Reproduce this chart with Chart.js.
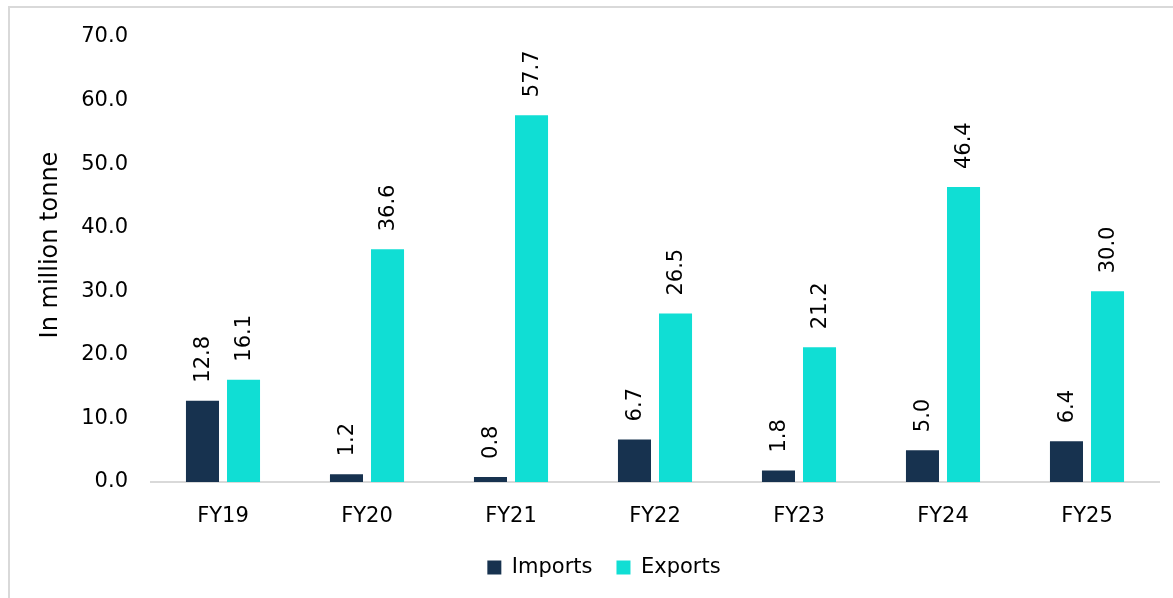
<!DOCTYPE html>
<html>
<head>
<meta charset="utf-8">
<script src="https://cdn.jsdelivr.net/npm/chart.js@4.4.1/dist/chart.umd.min.js"></script>
<style>
  html, body { margin: 0; padding: 0; background: #fff; }
  #wrap { position: relative; width: 1173px; height: 598px; }
  #frame { position: absolute; left: 8px; top: 6px; right: -2px; bottom: -2px;
           border-left: 2px solid #d9d9d9; border-top: 2px solid #d9d9d9; }
  canvas { position: absolute; left: 0; top: 0; }
</style>
</head>
<body>
<div id="wrap">
  <div id="frame"></div>
  <canvas id="c" width="1173" height="598"></canvas>
</div>
<script>
const categories = ['FY19', 'FY20', 'FY21', 'FY22', 'FY23', 'FY24', 'FY25'];
const imports = [12.8, 1.2, 0.8, 6.7, 1.8, 5.0, 6.4];
const exports = [16.1, 36.6, 57.7, 26.5, 21.2, 46.4, 30.0];
const yTicks = [0, 10, 20, 30, 40, 50, 60, 70];
const yTitle = 'In million tonne';

const FONT = '"DejaVu Sans", sans-serif';

const labelPlugin = {
  id: 'barLabels',
  afterDatasetsDraw(chart) {
    const ctx = chart.ctx;
    ctx.save();
    ctx.font = '21px ' + FONT;
    ctx.fillStyle = '#000';
    ctx.textAlign = 'left';
    ctx.textBaseline = 'middle';
    chart.data.datasets.forEach((ds, di) => {
      const meta = chart.getDatasetMeta(di);
      meta.data.forEach((el, i) => {
        ctx.save();
        ctx.translate(el.x, el.y - 18);
        ctx.rotate(-Math.PI / 2);
        ctx.fillText(ds.data[i].toFixed(1), 0, 1);
        ctx.restore();
      });
    });
    // y-axis title
    ctx.save();
    ctx.font = '24px ' + FONT;
    ctx.textAlign = 'center';
    ctx.textBaseline = 'alphabetic';
    ctx.translate(57, 245);
    ctx.rotate(-Math.PI / 2);
    ctx.fillText(yTitle, 0, 0);
    ctx.restore();
    ctx.restore();
  }
};

new Chart(document.getElementById('c'), {
  type: 'bar',
  data: {
    labels: categories,
    datasets: [
      { label: 'Imports', data: imports, backgroundColor: '#17324f',
        categoryPercentage: 0.57, barPercentage: 0.805 },
      { label: 'Exports', data: exports, backgroundColor: '#10ded4',
        categoryPercentage: 0.57, barPercentage: 0.805 }
    ]
  },
  options: {
    responsive: false,
    animation: false,
    devicePixelRatio: 1,
    layout: { padding: { top: 37, right: 14, left: 49, bottom: 10 } },
    plugins: {
      legend: {
        position: 'bottom',
        labels: { boxWidth: 14, boxHeight: 14, padding: 24,
                  color: '#000', font: { family: FONT, size: 21 } }
      },
      tooltip: { enabled: false }
    },
    scales: {
      x: {
        grid: { display: false, drawTicks: false },
        border: { display: true, color: '#d9d9d9', width: 2 },
        ticks: { color: '#000', padding: 22, font: { family: FONT, size: 21 } },
        afterFit: s => { s.height = 51; }
      },
      y: {
        min: 0, max: 70,
        afterBuildTicks: s => { s.ticks = yTicks.map(v => ({ value: v })); },
        grid: { display: false, drawTicks: false },
        border: { display: false },
        ticks: { color: '#000', padding: 23, font: { family: FONT, size: 21 },
                 callback: v => Number(v).toFixed(1) },
        title: { display: false, text: yTitle },
        afterFit: s => { s.width = 102; }
      }
    }
  },
  plugins: [labelPlugin]
});
</script>
</body>
</html>
